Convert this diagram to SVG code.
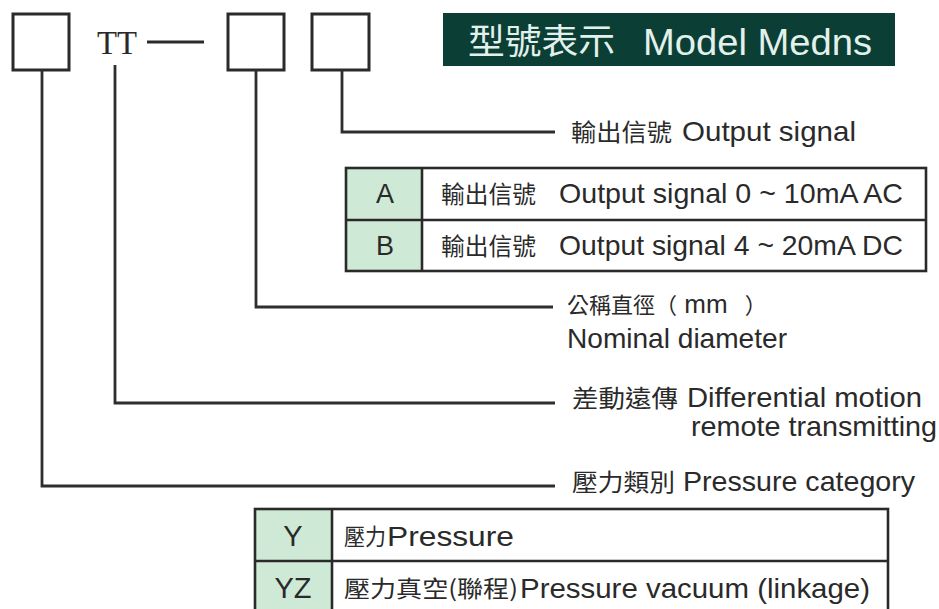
<svg xmlns="http://www.w3.org/2000/svg" width="939" height="609" viewBox="0 0 939 609">
<style>
.box{fill:#fff;stroke:#2a2a2a;stroke-width:3}
.ln{fill:none;stroke:#2e2e2e;stroke-width:2.8}
.tb{fill:none;stroke:#2a2a2a;stroke-width:2.6}
.gr{fill:#cfe9d7}
.cj{font-family:"Noto Sans CJK TC","Noto Sans CJK SC",sans-serif;fill:#2a2a2a}
.la{font-family:"Liberation Sans",Arial,"Noto Sans CJK TC",sans-serif;fill:#2a2a2a}
</style>
<rect width="939" height="609" fill="#fff"/>

<g id="box1"><rect class="box" x="13" y="14" width="56" height="56"/></g>
<g id="tt"><text x="97" y="54" font-family="Liberation Serif,serif" font-size="33" fill="#2a2a2a" textLength="40" lengthAdjust="spacingAndGlyphs">TT</text>
<line x1="147" y1="42" x2="204" y2="42" stroke="#2a2a2a" stroke-width="3"/></g>
<g id="box2"><rect class="box" x="228" y="14" width="56" height="56"/></g>
<g id="box3"><rect class="box" x="312" y="14" width="57" height="56"/></g>

<g id="title">
<rect x="443" y="13" width="452" height="53" fill="#0b3f35"/>
<text class="cj" x="468" y="54" font-size="35" style="fill:#e3f1ec" textLength="147" lengthAdjust="spacingAndGlyphs">型號表示</text>
<text class="la" x="643" y="55" font-size="37" style="fill:#e3f1ec" textLength="229" lengthAdjust="spacingAndGlyphs">Model Medns</text>
</g>

<g id="connectors">
<polyline class="ln" points="342,70 342,132 555,132"/>
<polyline class="ln" points="256,70 256,307 553,307"/>
<polyline class="ln" points="115,65 115,403 555,403"/>
<polyline class="ln" points="42,70 42,486 555,486"/>
</g>

<g id="label-output">
<text class="cj" x="571" y="141" font-size="24" textLength="101" lengthAdjust="spacingAndGlyphs">輸出信號</text>
<text class="la" x="682" y="141" font-size="28" textLength="174" lengthAdjust="spacingAndGlyphs">Output signal</text>
</g>

<g id="table-output">
<rect class="gr" x="346" y="168" width="76" height="103"/>
<rect class="tb" x="346" y="168" width="580" height="103"/>
<line class="tb" x1="346" y1="220" x2="926" y2="220"/>
<line class="tb" x1="422" y1="168" x2="422" y2="271"/>
<text class="la" x="385" y="203" font-size="27" text-anchor="middle">A</text>
<text class="cj" x="441" y="203" font-size="24" textLength="95" lengthAdjust="spacingAndGlyphs">輸出信號</text>
<text class="la" x="559" y="203" font-size="28" textLength="344" lengthAdjust="spacingAndGlyphs">Output signal 0 ~ 10mA AC</text>
<text class="la" x="385" y="255" font-size="27" text-anchor="middle">B</text>
<text class="cj" x="441" y="255" font-size="24" textLength="95" lengthAdjust="spacingAndGlyphs">輸出信號</text>
<text class="la" x="559" y="255" font-size="28" textLength="344" lengthAdjust="spacingAndGlyphs">Output signal 4 ~ 20mA DC</text>
</g>

<g id="label-nominal">
<text class="cj" x="567" y="313" font-size="22">公稱直徑（<tspan font-family="Liberation Sans, Arial, sans-serif" font-size="26"> mm </tspan><tspan dx="10">）</tspan></text>
<text class="la" x="567" y="348" font-size="28" textLength="220" lengthAdjust="spacingAndGlyphs">Nominal diameter</text>
</g>

<g id="label-differential">
<text class="cj" x="572" y="407" font-size="24" textLength="106" lengthAdjust="spacingAndGlyphs">差動遠傳</text>
<text class="la" x="687" y="407" font-size="28" textLength="235" lengthAdjust="spacingAndGlyphs">Differential motion</text>
<text class="la" x="691" y="436" font-size="28" textLength="246" lengthAdjust="spacingAndGlyphs">remote transmitting</text>
</g>

<g id="label-pressure">
<text class="cj" x="572" y="491" font-size="24" textLength="103" lengthAdjust="spacingAndGlyphs">壓力類別</text>
<text class="la" x="683" y="491" font-size="28" textLength="232" lengthAdjust="spacingAndGlyphs">Pressure category</text>
</g>

<g id="table-pressure">
<rect class="gr" x="255" y="509" width="77" height="110"/>
<rect class="tb" x="255" y="509" width="633" height="110"/>
<line class="tb" x1="255" y1="561" x2="888" y2="561"/>
<line class="tb" x1="332" y1="509" x2="332" y2="619"/>
<text class="la" x="293" y="546" font-size="29" text-anchor="middle">Y</text>
<text class="cj" x="344" y="545" font-size="23" textLength="42" lengthAdjust="spacingAndGlyphs">壓力</text>
<text class="la" x="387" y="546" font-size="28" textLength="127" lengthAdjust="spacingAndGlyphs">Pressure</text>
<text class="la" x="293" y="598" font-size="29" text-anchor="middle">YZ</text>
<text class="cj" x="344" y="597" font-size="23" textLength="174" lengthAdjust="spacingAndGlyphs">壓力真空(聯程)</text>
<text class="la" x="520" y="598" font-size="28" textLength="350" lengthAdjust="spacingAndGlyphs">Pressure vacuum (linkage)</text>
</g>
</svg>
